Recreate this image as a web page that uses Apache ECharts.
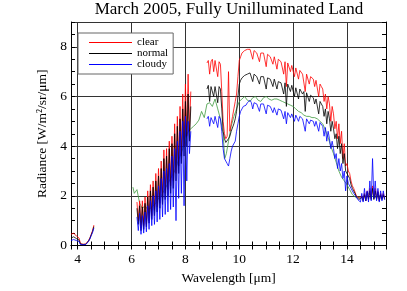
<!DOCTYPE html>
<html>
<head>
<meta charset="utf-8">
<script src="https://cdn.jsdelivr.net/npm/echarts@6/dist/echarts.min.js"></script>
<style>
  html, body { margin: 0; padding: 0; background: #fff; }
  #chart { width: 407px; height: 291px; }
</style>
</head>
<body>
<div id="chart"></div>
<script>
// channel grids (um), 0.05 steps; the instrument has gaps at 4.6-6.2 and 8.2-8.8
const grid = (a, b) => {
  const out = []
  for (let i = 0; a + i * 0.05 <= b + 1e-9; i++) out.push(+(a + i * 0.05).toFixed(2))
  return out
}
const wlShort = grid(3.75, 4.60)
const wlMid = grid(6.20, 8.20)
const wlLong = grid(8.80, 15.40)

// clear sky
const clearShort = [0.45, 0.48, 0.5, 0.45, 0.38, 0.35, 0.3, 0.08, 0.05, 0.05, 0.05, 0.06, 0.1, 0.2, 0.3, 0.45, 0.6, 0.82]
const clearMid = [1.75, 1.0, 1.8, 0.7, 1.8, 0.8, 1.95, 0.85, 2.2, 1.0,
  2.45, 1.2, 2.6, 1.4, 2.9, 1.55, 3.1, 1.7, 3.4, 1.9,
  3.85, 2.1, 3.9, 2.25, 4.2, 2.4, 4.4, 2.6, 4.9, 2.9,
  5.2, 3.2, 5.6, 3.6, 6.1, 4.0, 6.5, 4.4, 6.9, 4.6,
  6.2]
const clearLong = [7.35, 7.45, 6.9, 7.4, 7.5, 7.0, 7.45, 7.5, 6.8, 7.4,
  7.3, 6.2, 5.0, 4.5, 4.3, 4.4, 7.0, 4.6, 4.9, 5.2,
  5.5, 5.8, 6.1, 6.8, 7.45, 7.6, 7.75, 7.8, 7.85, 7.8,
  7.9, 7.85, 7.9, 7.85, 7.5, 7.85, 7.8, 7.75, 7.8, 7.4,
  7.75, 7.7, 7.75, 7.7, 7.2, 7.7, 7.65, 7.6, 7.65, 7.3,
  7.6, 7.55, 7.1, 7.5, 7.45, 7.4, 7.45, 6.9, 7.4, 6.4,
  7.35, 7.3, 7.0, 7.25, 7.2, 6.8, 7.15, 7.1, 6.7, 7.05,
  7.0, 6.9, 6.95, 6.2, 6.9, 6.85, 6.5, 6.8, 6.75, 6.7,
  6.4, 6.65, 6.6, 6.0, 6.5, 6.4, 6.3, 5.8, 6.1, 5.5,
  6.0, 5.7, 5.0, 5.6, 5.3, 4.7, 5.0, 4.3, 4.9, 4.1,
  4.6, 3.5, 4.1, 3.2, 3.3, 3.0, 2.9, 2.6, 2.4, 2.3,
  2.15, 2.0, 1.95, 1.9, 1.85, 2.0, 1.85, 2.1, 1.8, 2.2,
  1.9, 2.3, 1.9, 2.4, 1.9, 2.3, 1.9, 2.2, 1.8, 2.1,
  1.9, 2.1, 1.9]

// normal
const normalShort = [0.3, 0.33, 0.35, 0.32, 0.28, 0.26, 0.22, 0.06, 0.04, 0.04, 0.04, 0.05, 0.08, 0.18, 0.28, 0.42, 0.56, 0.76]
const normalMid = [1.5, 0.85, 1.6, 0.6, 1.55, 0.65, 1.7, 0.75, 1.95, 0.9,
  2.2, 1.05, 2.35, 1.2, 2.6, 1.35, 2.8, 1.5, 3.1, 1.65,
  3.5, 1.85, 3.6, 2.0, 3.9, 2.1, 4.1, 2.3, 4.5, 2.6,
  4.8, 2.9, 5.1, 3.3, 5.5, 3.6, 5.8, 4.0, 6.1, 4.2,
  5.6]
const normalLong = [6.3, 6.45, 5.8, 6.4, 6.45, 6.0, 6.4, 6.45, 5.75, 6.4,
  6.3, 5.5, 4.6, 4.3, 4.15, 4.1, 4.3, 4.4, 4.6, 4.6,
  4.9, 5.1, 5.4, 6.0, 6.5, 6.65, 6.75, 6.8, 6.85, 6.85,
  6.9, 6.85, 6.95, 6.9, 6.6, 6.9, 6.85, 6.8, 6.85, 6.5,
  6.8, 6.75, 6.8, 6.75, 6.3, 6.75, 6.7, 6.7, 6.75, 6.4,
  6.7, 6.65, 6.3, 6.6, 6.6, 6.55, 6.6, 6.1, 6.55, 5.6,
  6.5, 6.45, 6.2, 6.45, 6.4, 6.0, 6.35, 6.3, 5.9, 6.3,
  6.25, 6.1, 6.2, 5.4, 6.15, 6.1, 5.8, 6.05, 6.0, 5.95,
  5.7, 5.9, 5.85, 5.3, 5.8, 5.7, 5.6, 5.2, 5.5, 4.9,
  5.4, 5.1, 4.6, 5.0, 4.7, 4.3, 4.5, 3.9, 4.4, 3.7,
  4.1, 3.3, 3.7, 3.0, 3.0, 2.8, 2.7, 2.45, 2.3, 2.2,
  2.1, 1.95, 1.9, 1.85, 1.8, 1.95, 1.8, 2.05, 1.8, 2.15,
  1.85, 2.2, 1.85, 2.3, 1.85, 2.2, 1.85, 2.15, 1.8, 2.05,
  1.85, 2.05, 1.85]

// cloudy
const cloudyShort = [0.2, 0.22, 0.24, 0.22, 0.2, 0.18, 0.16, 0.04, 0.03, 0.03, 0.03, 0.04, 0.07, 0.16, 0.26, 0.4, 0.52, 0.7]
const cloudyMid = [1.15, 0.6, 1.3, 0.45, 1.2, 0.5, 1.35, 0.55, 1.6, 0.65,
  1.8, 0.8, 2.0, 0.85, 2.2, 0.95, 2.4, 1.05, 2.7, 1.15,
  3.0, 1.25, 3.1, 1.35, 3.3, 1.45, 3.6, 1.55, 3.9, 1.0,
  4.2, 1.9, 4.6, 2.1, 5.0, 1.6, 5.2, 2.6, 5.0, 3.7,
  4.6]
const cloudyLong = [5.1, 5.2, 4.8, 5.15, 5.2, 4.9, 5.2, 5.25, 4.75, 5.2,
  5.1, 4.6, 3.9, 3.5, 3.4, 3.3, 3.2, 3.5, 3.8, 4.0,
  4.0, 4.2, 4.6, 4.9, 5.2, 5.4, 5.5, 5.6, 5.6, 5.65,
  5.75, 5.7, 5.85, 5.75, 5.5, 5.75, 5.7, 5.7, 5.75, 5.4,
  5.7, 5.65, 5.7, 5.65, 5.3, 5.65, 5.6, 5.6, 5.6, 5.35,
  5.55, 5.55, 5.25, 5.5, 5.5, 5.45, 5.45, 5.1, 5.4, 4.9,
  5.35, 5.35, 5.15, 5.3, 5.3, 5.0, 5.25, 5.2, 5.0, 5.2,
  5.2, 5.1, 5.15, 4.6, 5.1, 5.1, 4.9, 5.05, 5.05, 5.0,
  4.8, 5.0, 5.0, 4.6, 4.95, 4.9, 4.8, 4.4, 4.75, 4.2,
  4.6, 4.3, 3.9, 4.2, 3.9, 3.5, 3.7, 3.1, 3.5, 3.0,
  3.3, 2.7, 3.0, 2.2, 2.8, 2.5, 2.5, 2.3, 2.2, 2.1,
  2.05, 1.95, 1.85, 1.8, 1.75, 2.1, 1.75, 2.3, 1.8, 2.2,
  1.75, 2.6, 1.8, 3.5, 1.9, 2.6, 1.8, 2.3, 1.75, 2.2,
  1.8, 2.2, 1.85]

// smooth green reference curve (no legend entry)
const greenWl = [6.05, 6.1, 6.15, 6.2, 6.25, 6.3, 6.35, 6.4, 6.45, 6.5, 6.55, 6.6, 6.7, 6.8, 6.9,
  7.0, 7.1, 7.2, 7.3, 7.4, 7.5, 7.6, 7.7, 7.8, 7.9, 8.0, 8.1, 8.2, 8.3, 8.4, 8.5, 8.6, 8.7, 8.8, 8.9,
  9.0, 9.1, 9.2, 9.3, 9.4, 9.46, 9.52, 9.6, 9.7, 9.8, 9.9, 10.0, 10.1, 10.2, 10.3, 10.4, 10.5, 10.6,
  10.7, 10.8, 10.9, 11.0, 11.1, 11.2, 11.3, 11.4, 11.5, 11.6, 11.7, 11.8, 11.9, 12.0, 12.1, 12.2,
  12.3, 12.4, 12.5, 12.6, 12.7, 12.8, 12.9, 13.0, 13.1, 13.2, 13.3, 13.4, 13.5, 13.6, 13.7, 13.8,
  13.9, 14.0, 14.1, 14.2, 14.3, 14.4, 14.5, 14.6, 14.7, 14.8, 14.9, 15.0, 15.1, 15.2, 15.3]
const green = [2.35, 2.1, 2.05, 2.25, 2.2, 1.7, 1.6, 1.5, 1.45, 1.6, 1.55, 1.45, 1.5, 1.6, 1.7,
  1.9, 2.0, 2.2, 2.4, 2.6, 2.8, 3.0, 3.3, 3.6, 3.9, 4.3, 4.6, 4.7, 4.8, 4.9, 5.05, 5.4, 5.15, 5.7, 5.75,
  5.6, 5.9, 5.5, 5.1, 4.5, 3.5, 3.7, 4.2, 4.8, 5.2, 5.5, 5.8, 5.9, 6.0, 5.85, 5.8, 5.95, 6.0,
  5.85, 5.8, 5.95, 6.0, 5.9, 5.85, 5.9, 5.9, 5.85, 5.8, 5.75, 5.7, 5.65, 5.6, 5.5, 5.4,
  5.35, 5.25, 5.2, 5.2, 5.15, 5.15, 5.1, 5.0, 4.9, 4.65, 4.35, 4.0, 3.7, 3.35, 3.0, 2.75,
  2.6, 2.45, 2.25, 2.05, 1.95, 1.95, 1.9, 1.95, 2.0, 2.1, 2.0, 1.95, 1.95, 2.0, 1.95]

// join the segments, with an empty point so the line breaks at the gaps
function pairs(parts) {
  const data = []
  parts.forEach(([wl, vals], k) => {
    if (k > 0) data.push([wl[0] - 0.02, '-'])
    wl.forEach((w, i) => data.push([w, vals[i]]))
  })
  return data
}

const serif = '"Liberation Serif", "DejaVu Serif", serif'
const chart = echarts.init(document.getElementById('chart'))

const lineSeries = (name, color, data) => ({
  name, type: 'line', data, color,
  symbol: 'none', showSymbol: false, silent: true,
  lineStyle: { width: 0.8, color }
})

const labelStyle = { fontFamily: serif, fontSize: 13.5, color: '#000' }
const mirror = {
  axisLabel: { show: false },
  splitLine: { show: false },
  axisLine: { lineStyle: { color: '#000' } },
  axisTick: { show: true, inside: true, length: 4, lineStyle: { color: '#000' } },
  minorTick: { show: true, splitNumber: 4, length: 4, lineStyle: { color: '#000' } }
}

chart.setOption({
  animation: false,
  backgroundColor: '#fff',
  title: {
    text: 'March 2005, Fully Unilluminated Land',
    left: 229, top: 1, textAlign: 'center', padding: 0,
    textStyle: { fontFamily: serif, fontSize: 17, fontWeight: 'normal', color: '#000' }
  },
  legend: {
    data: ['clear', 'normal', 'cloudy'],
    orient: 'vertical', left: 78, top: 33,
    padding: [4, 5, 4, 11],
    itemWidth: 43, itemHeight: 1, itemGap: 0,
    icon: 'rect',
    backgroundColor: '#fff', borderColor: '#666', borderWidth: 1,
    textStyle: { fontFamily: serif, fontSize: 11, lineHeight: 11, color: '#000' }
  },
  grid: { left: 71, right: 21, top: 22, bottom: 45.5 },
  xAxis: [
    {
      type: 'value', min: 3.75, max: 15.45,
      name: 'Wavelength [μm]', nameLocation: 'middle', nameGap: 20,
      nameTextStyle: labelStyle,
      axisLine: { onZero: false, lineStyle: { color: '#000' } },
      axisTick: { show: true, inside: true, length: 4, lineStyle: { color: '#000' } },
      minorTick: { show: true, splitNumber: 4, length: 4, lineStyle: { color: '#000' } },
      axisLabel: { ...labelStyle, margin: 7, formatter: v => Number.isInteger(v) ? v : '' },
      splitLine: { show: true, lineStyle: { color: '#333', width: 1 } }
    },
    { type: 'value', position: 'top', min: 3.75, max: 15.45, ...mirror }
  ],
  yAxis: [
    {
      type: 'value', min: 0, max: 9, interval: 2,
      name: 'Radiance [W/m²/sr/μm]', nameLocation: 'middle', nameGap: 20,
      nameTextStyle: labelStyle,
      axisLine: { onZero: false, lineStyle: { color: '#000' } },
      axisTick: { show: true, inside: true, length: 4, lineStyle: { color: '#000' } },
      minorTick: { show: true, splitNumber: 4, length: 4, lineStyle: { color: '#000' } },
      axisLabel: { ...labelStyle, margin: 4, formatter: v => v % 2 === 0 ? v : '' },
      splitLine: { show: true, lineStyle: { color: '#333', width: 1 } }
    },
    { type: 'value', position: 'right', min: 0, max: 9, interval: 2, ...mirror }
  ],
  series: [
    lineSeries('model', '#3f9a3f', greenWl.map((w, i) => [w, green[i]])),
    lineSeries('clear', '#ff0000', pairs([[wlShort, clearShort], [wlMid, clearMid], [wlLong, clearLong]])),
    lineSeries('normal', '#000000', pairs([[wlShort, normalShort], [wlMid, normalMid], [wlLong, normalLong]])),
    lineSeries('cloudy', '#0000ff', pairs([[wlShort, cloudyShort], [wlMid, cloudyMid], [wlLong, cloudyLong]]))
  ]
})
</script>
</body>
</html>
